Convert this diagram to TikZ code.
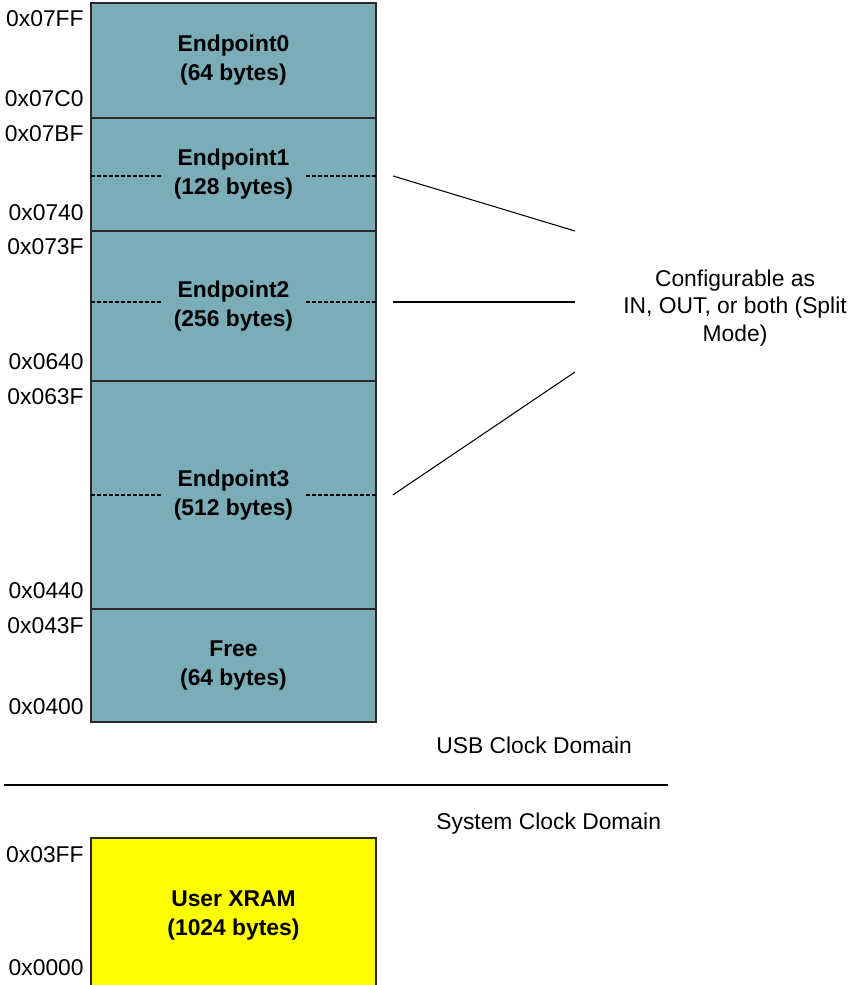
\documentclass[tikz,border=0pt]{standalone}
\usepackage{fontspec}
\setmainfont{Liberation Sans}
\usepackage{tikz}
\usetikzlibrary{positioning}
\definecolor{epfill}{RGB}{123, 173, 184}
\definecolor{ramfill}{RGB}{255, 255, 0}
\definecolor{framecol}{RGB}{40, 40, 40}

\begin{document}
\begin{tikzpicture}[
    x=0.02cm, y=0.02cm,
    font=\fontsize{13}{15.8}\selectfont,
    membox/.style={rectangle, draw=framecol, line width=0.8pt, fill=epfill, outer sep=0pt,
      minimum width=5.7cm, align=center, font=\fontsize{13}{16.4}\selectfont\bfseries},
    addr/.style={anchor=east, inner sep=0pt},
    split/.style={line width=1pt, dash pattern=on 2.3pt off 1.1pt},
    pointer/.style={line width=0.6pt}
    ]
    \useasboundingbox (0,0) rectangle (850,-985);

    % Endpoint buffers
    \node[membox, minimum height=2.3cm, anchor=north west] (ep0) at (91,-3) {Endpoint0\\(64 bytes)};
    \node[membox, minimum height=2.26cm, below=0pt of ep0] (ep1) {Endpoint1\\(128 bytes)};
    \node[membox, minimum height=3cm, below=0pt of ep1] (ep2) {Endpoint2\\(256 bytes)};
    \node[membox, minimum height=4.56cm, below=0pt of ep2] (ep3) {Endpoint3\\(512 bytes)};
    \node[membox, minimum height=2.26cm, below=0pt of ep3] (free) {Free\\(64 bytes)};

    % User XRAM
    \node[membox, fill=ramfill, minimum height=3.1cm, anchor=north west] (xram) at (91,-838) {User XRAM\\(1024 bytes)};

    % Addresses
    \node[addr] (a07FF) at (84,-19) {0x07FF};
    \node[addr] (a07C0) at (84,-99) {0x07C0};
    \node[addr] (a07BF) at (84,-134) {0x07BF};
    \node[addr] (a0740) at (84,-213) {0x0740};
    \node[addr] (a073F) at (84,-247) {0x073F};
    \node[addr] (a0640) at (84,-362) {0x0640};
    \node[addr] (a063F) at (84,-397) {0x063F};
    \node[addr] (a0440) at (84,-591) {0x0440};
    \node[addr] (a043F) at (84,-626) {0x043F};
    \node[addr] (a0400) at (84,-707) {0x0400};
    \node[addr] (a03FF) at (84,-855) {0x03FF};
    \node[addr] (a0000) at (84,-968) {0x0000};

    % Split lines
    \foreach \ep/\dy in {ep1/-1.5, ep2/4, ep3/0} {
        \draw[split] ([yshift=\dy*0.02cm]\ep.west) -- ++(70,0);
        \draw[split] ([yshift=\dy*0.02cm]\ep.east) -- ++(-70,0);
      }

    % Note
    \node[align=center] (note) at (735,-308) {Configurable as\\IN, OUT, or both (Split\\Mode)};
    \coordinate (n1) at (575,-231);
    \coordinate (n2) at (575,-302);
    \coordinate (n3) at (575,-372);
    \draw[pointer] ([xshift=17*0.02cm, yshift=-1.5*0.02cm]ep1.east) -- (n1);
    \draw[pointer] ([xshift=17*0.02cm]ep2.east |- n2) -- (n2);
    \draw[pointer] ([xshift=17*0.02cm]ep3.east) -- (n3);

    % Clock domains
    \node[anchor=west, inner sep=0pt] (usb) at (436,-745) {USB Clock Domain};
    \node[anchor=west, inner sep=0pt] (sys) at (436,-824) {System Clock Domain};
    \coordinate (d0) at (4,-785);
    \coordinate (d1) at (668,-785);
    \draw[line width=0.8pt] (d0) -- (d1);
  \end{tikzpicture}
\end{document}
